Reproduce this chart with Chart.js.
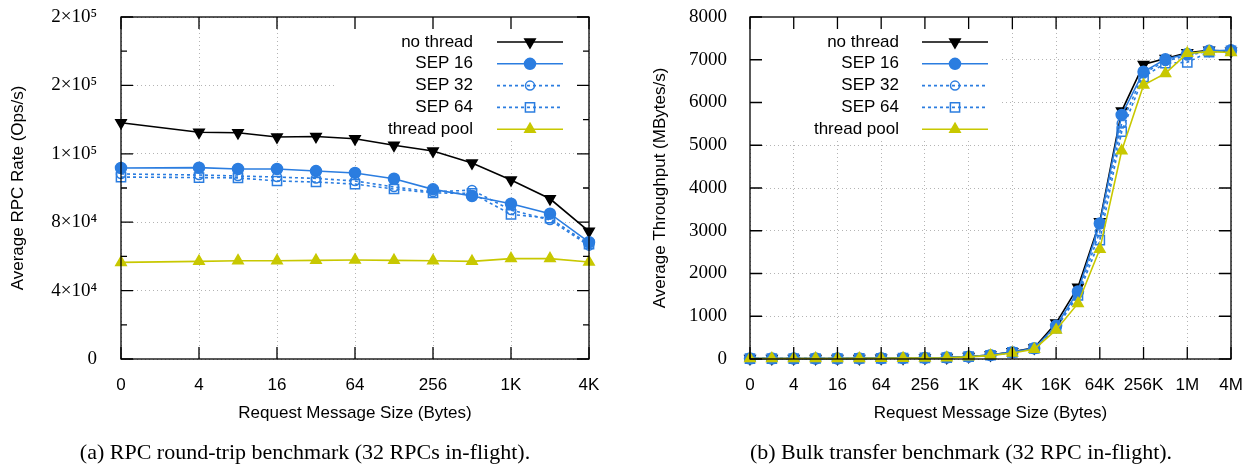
<!DOCTYPE html>
<html>
<head>
<meta charset="utf-8">
<title>RPC round-trip and bulk transfer benchmarks</title>
<script src="https://cdn.jsdelivr.net/npm/chart.js"></script>
<style>
  body { margin: 0; background: #fff; width: 1243px; height: 470px; position: relative; overflow: hidden; }
  .box { position: absolute; top: 0; }
  .box canvas { display: block; }
  .cap { position: absolute; top: 439px; width: 620px; text-align: center; line-height: 25px;
         font: 22px "Liberation Serif", "Times New Roman", serif; color: #000; white-space: nowrap; }
</style>
</head>
<body>
<div class="box" style="left:0"><canvas id="rpcChart" width="620" height="440"></canvas></div>
<div class="box" style="left:620px"><canvas id="bulkChart" width="623" height="440"></canvas></div>
<div class="cap" style="left:-5px">(a) RPC round-trip benchmark (32 RPCs in-flight).</div>
<div class="cap" style="left:651px">(b) Bulk transfer benchmark (32 RPC in-flight).</div>
<script>
// ---- data: RPC round-trip (left) ----
const seriesNames = ['no thread', 'SEP 16', 'SEP 32', 'SEP 64', 'thread pool'];

const rpcSizes = [1, 4, 8, 16, 32, 64, 128, 256, 512, 1024, 2048, 4096];   // 1 is shown as "0"
const rpcNoThread  = [138200, 132600, 132300, 129800, 130100, 128800, 125000, 121600, 114600, 104700, 93700, 74700];
const rpcSep16     = [111700, 111900, 111100, 111100, 109900, 108800, 105400,  99200,  95300,  90800, 85000, 68300];
const rpcSep32     = [108200, 107600, 107000, 106400, 105600, 104100, 100600,  97700,  98800,  87100, 81300, 66300];
const rpcSep64     = [106400, 106100, 105900, 104100, 103500, 102300,  99400,  97100,  96900,  84600, 82300, 67100];
const rpcThreadPool = [56500, 57100, 57500, 57500, 57700, 57900, 57700, 57500, 57100, 58700, 58700, 56700];

const rpcXTicks = [1, 4, 16, 64, 256, 1024, 4096];
const rpcXLabels = ['0', '4', '16', '64', '256', '1K', '4K'];
const rpcYTicks = [0, 40000, 80000, 120000, 160000, 200000];
const rpcYLabels = ['0', '4×10⁴', '8×10⁴', '1×10⁵', '2×10⁵', '2×10⁵'];

// ---- data: bulk transfer (right) ----
const bulkSizes = [1, 2, 4, 8, 16, 32, 64, 128, 256, 512, 1024, 2048, 4096, 8192, 16384, 32768,
                   65536, 131072, 262144, 524288, 1048576, 2097152, 4194304];
const bulkNoThread  = [10, 10, 10, 12, 12, 14, 16, 20, 25, 35, 60, 95, 170, 260, 840, 1680, 3210, 5800, 6890, 7030, 7165, 7220, 7200];
const bulkSep16     = [10, 10, 10, 12, 12, 14, 16, 20, 25, 33, 55, 90, 160, 250, 775, 1580, 3170, 5710, 6720, 7010, 7135, 7210, 7220];
const bulkSep32     = [10, 10, 10, 12, 12, 14, 16, 20, 25, 33, 55, 88, 155, 245, 740, 1530, 2980, 5510, 6680, 6970, 7100, 7200, 7215];
const bulkSep64     = [10, 10, 10, 12, 12, 14, 16, 20, 25, 33, 55, 88, 155, 245, 720, 1490, 2780, 5320, 6600, 6920, 6940, 7180, 7210];
const bulkThreadPool = [10, 10, 10, 12, 12, 14, 16, 20, 25, 30, 50, 80, 140, 230, 680, 1300, 2570, 4870, 6410, 6680, 7150, 7190, 7170];

const bulkXTicks = [1, 4, 16, 64, 256, 1024, 4096, 16384, 65536, 262144, 1048576, 4194304];
const bulkXLabels = ['0', '4', '16', '64', '256', '1K', '4K', '16K', '64K', '256K', '1M', '4M'];
const bulkYTicks = [0, 1000, 2000, 3000, 4000, 5000, 6000, 7000, 8000];

// ---- styles ----
const BLUE = '#2b7de0';
const YELLOW = '#c8c800';
const NONE = 'rgba(0,0,0,0)';
const seriesStyles = [
    { borderColor: '#000', pointBackgroundColor: '#000', pointBorderColor: '#000', pointStyle: 'triangle', pointRotation: 180, pointRadius: 6 },
    { borderColor: BLUE, pointBackgroundColor: BLUE, pointBorderColor: BLUE, pointStyle: 'circle', pointRadius: 5.5 },
    { borderColor: BLUE, pointBackgroundColor: NONE, pointBorderColor: BLUE, pointStyle: 'circle', pointRadius: 4.5, borderDash: [3, 3] },
    { borderColor: BLUE, pointBackgroundColor: NONE, pointBorderColor: BLUE, pointStyle: 'rect', pointRadius: 6.5, borderDash: [3, 3] },
    { borderColor: YELLOW, pointBackgroundColor: YELLOW, pointBorderColor: YELLOW, pointStyle: 'triangle', pointRadius: 6 }
];

Chart.defaults.font.family = '"Liberation Sans", Arial, sans-serif';
Chart.defaults.color = '#000';

function makeDatasets(sizes, series) {
    return series.map((vals, k) => Object.assign({
        label: seriesNames[k],
        data: sizes.map((s, i) => ({ x: s, y: vals[i] })),
        borderWidth: 1.6,
        pointBorderWidth: 1.5,
        fill: false,
        tension: 0,
        clip: false,
        order: series.length - k
    }, seriesStyles[k]));
}

// white key box, frame with inward ticks, and the key itself
const framePlugin = {
    id: 'frameKey',
    beforeDatasetsDraw(chart, args, o) {
        const ctx = chart.ctx;
        ctx.save();
        ctx.fillStyle = '#fff';
        ctx.fillRect(o.box[0], o.box[1], o.box[2] - o.box[0], o.box[3] - o.box[1]);
        ctx.restore();
    },
    afterDatasetsDraw(chart, args, o) {
        const ctx = chart.ctx;
        const a = chart.chartArea;
        const xs = chart.scales.x, ys = chart.scales.y;
        ctx.save();
        ctx.strokeStyle = '#000';
        ctx.lineWidth = 1.3;
        ctx.beginPath();
        xs.ticks.forEach(t => {
            const px = xs.getPixelForValue(t.value);
            ctx.moveTo(px, a.bottom); ctx.lineTo(px, a.bottom - 12);
            ctx.moveTo(px, a.top); ctx.lineTo(px, a.top + 12);
        });
        ys.ticks.forEach((t, i) => {
            const py = ys.getPixelForValue(t.value);
            ctx.moveTo(a.left, py); ctx.lineTo(a.left + 12, py);
            ctx.moveTo(a.right, py); ctx.lineTo(a.right - 12, py);
            if (o.minor && i > 0) {
                const pm = ys.getPixelForValue((t.value + ys.ticks[i - 1].value) / 2);
                ctx.moveTo(a.left, pm); ctx.lineTo(a.left + 6, pm);
                ctx.moveTo(a.right, pm); ctx.lineTo(a.right - 6, pm);
            }
        });
        ctx.stroke();
        ctx.strokeRect(a.left, a.top, a.right - a.left, a.bottom - a.top);

        // key
        ctx.font = '17px "Liberation Sans", Arial, sans-serif';
        ctx.textAlign = 'right';
        ctx.textBaseline = 'middle';
        chart.data.datasets.forEach((ds, i) => {
            const y = o.rowY + i * o.rowH;
            ctx.fillStyle = '#000';
            ctx.fillText(ds.label, o.textRight, y);
            ctx.strokeStyle = ds.borderColor;
            ctx.lineWidth = ds.borderWidth;
            ctx.setLineDash(ds.borderDash || []);
            ctx.beginPath();
            ctx.moveTo(o.lineX[0], y); ctx.lineTo(o.lineX[1], y);
            ctx.stroke();
            ctx.setLineDash([]);
            ctx.fillStyle = ds.pointBackgroundColor;
            ctx.strokeStyle = ds.pointBorderColor;
            ctx.lineWidth = ds.pointBorderWidth;
            Chart.helpers.drawPoint(ctx, {
                pointStyle: ds.pointStyle, radius: ds.pointRadius,
                rotation: ds.pointRotation || 0, borderWidth: ds.pointBorderWidth
            }, (o.lineX[0] + o.lineX[1]) / 2, y);
        });
        ctx.restore();
    }
};

function makeOptions(cfg) {
    const gridStyle = { color: '#b4b4b4', lineWidth: 1, drawTicks: false };
    const dotted = { display: false, dash: [1, 3] };
    return {
        responsive: false,
        animation: false,
        events: [],
        layout: { padding: { top: 17, right: cfg.padRight, left: 0, bottom: 0 } },
        plugins: {
            legend: { display: false },
            tooltip: { enabled: false },
            frameKey: cfg.key
        },
        scales: {
            x: {
                type: 'logarithmic',
                min: cfg.xTicks[0],
                max: cfg.xTicks[cfg.xTicks.length - 1],
                afterBuildTicks: axis => { axis.ticks = cfg.xTicks.map(v => ({ value: v })); },
                afterFit: axis => { axis.height = 81; axis.paddingLeft = 0; axis.paddingRight = 0; },
                grid: gridStyle,
                border: dotted,
                ticks: {
                    autoSkip: false, maxRotation: 0, padding: 16,
                    font: { size: 17 },
                    callback: (v, i) => cfg.xLabels[i]
                },
                title: { display: true, text: 'Request Message Size (Bytes)', font: { size: 17 }, padding: { top: 0, bottom: 16 } }
            },
            y: {
                min: cfg.yTicks[0],
                max: cfg.yTicks[cfg.yTicks.length - 1],
                afterBuildTicks: axis => { axis.ticks = cfg.yTicks.map(v => ({ value: v })); },
                afterFit: axis => { axis.width = cfg.yWidth; axis.paddingTop = 0; axis.paddingBottom = 0; },
                grid: gridStyle,
                border: dotted,
                ticks: {
                    padding: cfg.yPad,
                    font: { family: '"Liberation Serif", "Times New Roman", serif', size: 19 },
                    callback: (v, i) => cfg.yLabels[i]
                },
                title: { display: true, text: cfg.yTitle, font: { size: 17 }, padding: { top: cfg.titlePad, bottom: 0 } }
            }
        }
    };
}

new Chart(document.getElementById('rpcChart'), {
    type: 'line',
    data: { datasets: makeDatasets(rpcSizes, [rpcNoThread, rpcSep16, rpcSep32, rpcSep64, rpcThreadPool]) },
    options: makeOptions({
        padRight: 31, yWidth: 121, yPad: 24, titlePad: 8,
        xTicks: rpcXTicks, xLabels: rpcXLabels,
        yTicks: rpcYTicks, yLabels: rpcYLabels,
        yTitle: 'Average RPC Rate (Ops/s)',
        key: { box: [337, 17, 589, 141], rowY: 42, rowH: 21.8, textRight: 473, lineX: [497, 563], minor: true }
    }),
    plugins: [framePlugin]
});

new Chart(document.getElementById('bulkChart'), {
    type: 'line',
    data: { datasets: makeDatasets(bulkSizes, [bulkNoThread, bulkSep16, bulkSep32, bulkSep64, bulkThreadPool]) },
    options: makeOptions({
        padRight: 12, yWidth: 130, yPad: 23, titlePad: 30,
        xTicks: bulkXTicks, xLabels: bulkXLabels,
        yTicks: bulkYTicks, yLabels: bulkYTicks.map(String),
        yTitle: 'Average Throughput (MBytes/s)',
        key: { box: [130, 17, 380, 141], rowY: 42, rowH: 21.8, textRight: 279, lineX: [302, 368], minor: false }
    }),
    plugins: [framePlugin]
});
</script>
</body>
</html>
